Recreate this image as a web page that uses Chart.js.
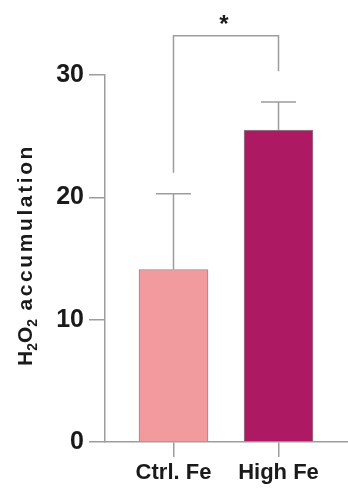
<!DOCTYPE html>
<html>
<head>
<meta charset="utf-8">
<script src="https://cdn.jsdelivr.net/npm/chart.js@4.4.1/dist/chart.umd.min.js"></script>
<style>
  html, body { margin: 0; padding: 0; background: #fff; }
  #wrap { width: 348px; height: 488px; }
</style>
</head>
<body>
<div id="wrap"><canvas id="grafico"></canvas></div>
<script>
// dados do gráfico
const grupos = ['Ctrl. Fe', 'High Fe'];
const posicoes = [1, 2];
const medias = [14.1, 25.5];
const desvios = [6.2, 2.3];
const coresBarras = ['#f29b9f', '#ad1a63'];
const ticksY = [0, 10, 20, 30];

// colchete de significância (valores no eixo y)
const colcheteTopo = 33.2;
const colchetePernas = [22.0, 30.3];
const marcaSignificancia = '*';

const cinza = '#9d9d9d';
const fonte = '"Liberation Sans", Arial, Helvetica, sans-serif';

// barras de erro + colchete + título do eixo y com subscrito
const extras = {
    id: 'extras',
    afterDatasetsDraw(chart) {
        const c = chart.ctx;
        const x = chart.scales.x;
        const y = chart.scales.y;
        c.save();
        c.strokeStyle = cinza;
        c.lineWidth = 1.5;

        // barras de erro (só para cima)
        medias.forEach((m, i) => {
            const px = x.getPixelForValue(posicoes[i]);
            const y0 = y.getPixelForValue(m);
            const y1 = y.getPixelForValue(m + desvios[i]);
            c.beginPath();
            c.moveTo(px, y0);
            c.lineTo(px, y1);
            c.moveTo(px - 17.5, y1);
            c.lineTo(px + 17.5, y1);
            c.stroke();
        });

        // colchete
        const xa = x.getPixelForValue(posicoes[0]);
        const xb = x.getPixelForValue(posicoes[1]);
        const yt = y.getPixelForValue(colcheteTopo);
        c.beginPath();
        c.moveTo(xa, y.getPixelForValue(colchetePernas[0]));
        c.lineTo(xa, yt);
        c.lineTo(xb, yt);
        c.lineTo(xb, y.getPixelForValue(colchetePernas[1]));
        c.stroke();

        c.fillStyle = '#1a1a1a';
        c.font = 'bold 24px ' + fonte;
        c.textAlign = 'center';
        c.textBaseline = 'alphabetic';
        c.fillText(marcaSignificancia, (xa + xb) / 2 - 2, yt - 4);

        // título do eixo y: H2O2 accumulation  [texto, subscrito, espaçamento]
        const partes = [
            ['H', false, '0px'], ['2', true, '0px'], ['O', false, '0px'], ['2', true, '0px'],
            [' accumulation', false, '2.6px']
        ];
        const fGrande = 'bold 21px ' + fonte;
        const fPequena = 'bold 14px ' + fonte;
        let total = 0;
        partes.forEach(([t, sub, esp]) => {
            c.font = sub ? fPequena : fGrande;
            c.letterSpacing = esp;
            total += c.measureText(t).width;
        });
        c.translate(32, 255);
        c.rotate(-Math.PI / 2);
        c.textAlign = 'left';
        let pos = -total / 2;
        partes.forEach(([t, sub, esp]) => {
            c.font = sub ? fPequena : fGrande;
            c.letterSpacing = esp;
            c.fillText(t, pos, sub ? 5 : 0);
            pos += c.measureText(t).width;
        });
        c.restore();
    }
};

new Chart(document.getElementById('grafico'), {
    type: 'bar',
    data: {
        datasets: [{
            data: posicoes.map((p, i) => ({ x: p, y: medias[i] })),
            backgroundColor: coresBarras,
            borderColor: '#8a8a8a',
            borderWidth: 1,
            barThickness: 69
        }]
    },
    options: {
        responsive: true,
        maintainAspectRatio: false,
        animation: false,
        layout: { padding: { top: 75, left: 0, right: 0, bottom: 0 } },
        plugins: {
            legend: { display: false },
            tooltip: { enabled: false }
        },
        scales: {
            x: {
                type: 'linear',
                offset: false,
                min: 1 - 68.5 / 105,
                max: 1 + 174.5 / 105,
                afterBuildTicks: (s) => { s.ticks = posicoes.map(v => ({ value: v })); },
                afterFit: (s) => { s.height = 46; },
                grid: { offset: false, drawOnChartArea: false, color: cinza, lineWidth: 1.5, tickLength: 15 },
                border: { color: cinza, width: 1.5 },
                ticks: {
                    color: '#1a1a1a',
                    padding: 3,
                    maxRotation: 0,
                    font: { family: fonte, size: 22, weight: 'bold' },
                    callback: (v) => grupos[posicoes.indexOf(v)]
                }
            },
            y: {
                min: 0,
                max: 30,
                afterBuildTicks: (s) => { s.ticks = ticksY.map(v => ({ value: v })); },
                afterFit: (s) => { s.width = 105; },
                grid: { drawOnChartArea: false, color: cinza, lineWidth: 1.5, tickLength: 16 },
                border: { color: cinza, width: 1.5 },
                ticks: {
                    color: '#1a1a1a',
                    padding: 5,
                    font: { family: fonte, size: 25, weight: 'bold' }
                }
            }
        }
    },
    plugins: [extras]
});
</script>
</body>
</html>
